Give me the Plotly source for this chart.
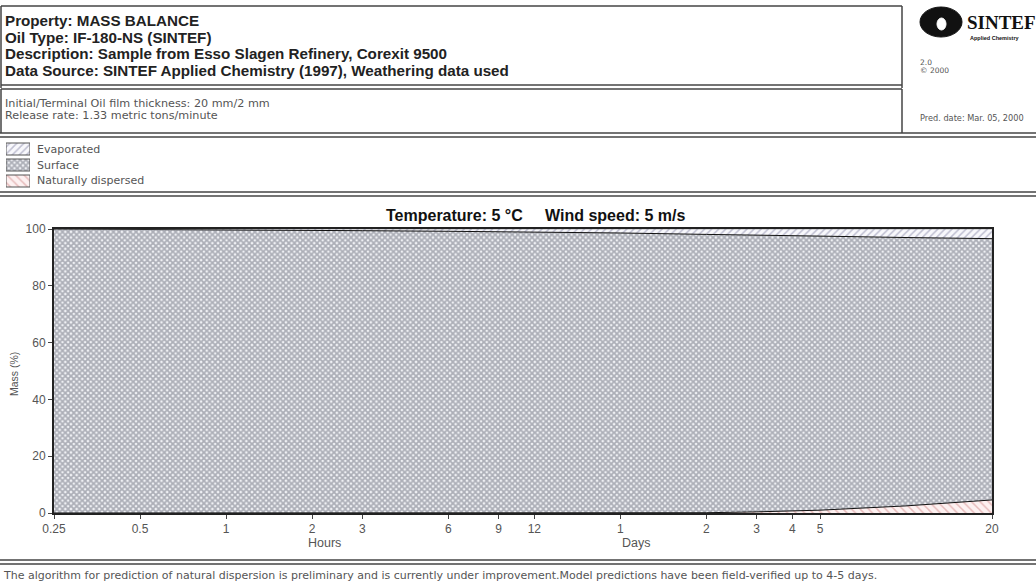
import plotly.graph_objects as go

# ---- data ----
time_hours = [0.25, 0.5, 1, 2, 3, 6, 9, 12, 24, 48, 72, 96, 120, 240, 480]
evaporated = [0.0, 0.1, 0.3, 0.5, 0.6, 0.8, 0.9, 1.0, 1.4, 1.9, 2.1, 2.3, 2.5, 3.0, 3.4]
dispersed = [0.0, 0.0, 0.0, 0.0, 0.0, 0.0, 0.0, 0.0, 0.0, 0.1, 0.4, 0.7, 1.0, 2.5, 4.6]
surface = [round(100 - e - d, 2) for e, d in zip(evaporated, dispersed)]

tick_vals = [0.25, 0.5, 1, 2, 3, 6, 9, 12, 24, 48, 72, 96, 120, 480]
tick_text = ["0.25", "0.5", "1", "2", "3", "6", "9", "12", "1", "2", "3", "4", "5", "20"]
y_ticks = [0, 20, 40, 60, 80, 100]
legend_names = ["Evaporated", "Surface", "Naturally dispersed"]

# ---- layout geometry (pixels) ----
W, H = 1036, 588
L, R, T, B = 54, 992, 229, 513


def px(x):
    return x / W


def py(y):
    return (H - y) / H


GRAY = "#555555"
FONT = "Arial, Liberation Sans, sans-serif"
WIDE = "DejaVu Sans, Verdana, sans-serif"

styles = {
    "Naturally dispersed": dict(shape="\\", fgcolor="#cf8585", bgcolor="#fdf1f1", size=6, solidity=0.25),
    "Surface": dict(shape="x", fgcolor="#666a78", bgcolor="#f2f3f6", size=4, solidity=0.7),
    "Evaporated": dict(shape="/", fgcolor="#8686a6", bgcolor="#f8f8fc", size=5, solidity=0.3),
}

fig = go.Figure()

fig.add_trace(go.Scatter(
    x=time_hours, y=dispersed, name="Naturally dispersed", stackgroup="one",
    mode="lines", line=dict(color="#111111", width=1), showlegend=False,
    fillpattern=styles["Naturally dispersed"],
))
fig.add_trace(go.Scatter(
    x=time_hours, y=surface, name="Surface", stackgroup="one",
    mode="lines", line=dict(color="#111111", width=1), showlegend=False,
    fillpattern=styles["Surface"],
))
fig.add_trace(go.Scatter(
    x=time_hours, y=evaporated, name="Evaporated", stackgroup="one",
    mode="lines", line=dict(color="#777777", width=0.5), showlegend=False,
    fillpattern=styles["Evaporated"],
))

# ---- manual legend swatches on a small helper axis ----
legend_rows_y = [149, 165, 181]  # pixel centres
for name, yc in zip(legend_names, legend_rows_y):
    fig.add_trace(go.Scatter(
        x=[0, 1, 1, 0, 0], y=[yc - 6, yc - 6, yc + 6, yc + 6, yc - 6],
        xaxis="x2", yaxis="y2", mode="lines", fill="toself",
        line=dict(color="#555555", width=1), fillpattern=styles[name],
        showlegend=False, hoverinfo="skip"))

shapes = []
line_col = "#444444"


def hline(y, x0=0, x1=W, w=1.5, c=line_col):
    shapes.append(dict(type="line", xref="paper", yref="paper",
                       x0=px(x0), x1=px(x1), y0=py(y), y1=py(y),
                       line=dict(color=c, width=w)))


def vline(x, y0, y1, w=1.5, c=line_col):
    shapes.append(dict(type="line", xref="paper", yref="paper",
                       x0=px(x), x1=px(x), y0=py(y0), y1=py(y1),
                       line=dict(color=c, width=w)))


# header boxes
hline(6, 1, 902)
hline(85, 1, 902)
vline(902, 6, 88)
vline(1, 6, 88)
hline(89, 1, 902)
vline(902, 89, 133)
vline(1, 89, 133)
# full width double lines
hline(133, 0, W)
hline(137, 0, W)
hline(192, 0, W)
hline(196, 0, W)
hline(560, 0, W)
hline(564, 0, W)

# logo
shapes.append(dict(type="circle", xref="paper", yref="paper",
                   x0=px(920), x1=px(962), y0=py(37), y1=py(7),
                   fillcolor="#111111", line=dict(color="#111111", width=1)))
shapes.append(dict(type="circle", xref="paper", yref="paper",
                   x0=px(937), x1=px(946), y0=py(30), y1=py(18),
                   fillcolor="white", line=dict(color="white", width=1)))

annotations = []


def text(x, y, s, size=10, color=GRAY, bold=False, xanchor="left", angle=0, family=FONT):
    annotations.append(dict(
        xref="paper", yref="paper", x=px(x), y=py(y), text=(f"<b>{s}</b>" if bold else s),
        showarrow=False, xanchor=xanchor, yanchor="middle", textangle=angle,
        font=dict(family=family, size=size, color=color)))


text(3, 20, "Property: MASS BALANCE", 15.2, "#222222", True)
text(3, 37, "Oil Type: IF-180-NS (SINTEF)", 15.2, "#222222", True)
text(3, 53, "Description: Sample from Esso Slagen Refinery, Corexit 9500", 15.2, "#222222", True)
text(3, 70, "Data Source: SINTEF Applied Chemistry (1997), Weathering data used", 15.2, "#222222", True)
text(3, 103, "Initial/Terminal Oil film thickness: 20 mm/2 mm", 11.2, family=WIDE)
text(3, 115, "Release rate: 1.33 metric tons/minute", 11.2, family=WIDE)

for name, yc in zip(legend_names, legend_rows_y):
    text(35, yc, name, 11, family=WIDE)

text(965, 22, "SINTEF", 19, "#111111", True, family="Liberation Serif, serif")
text(968, 38, "Applied Chemistry", 5.5, "#111111", True)
text(918, 62, "2.0", 7.5, family=WIDE)
text(918, 71, "© 2000", 7.5, family=WIDE)
text(918, 118, "Pred. date: Mar. 05, 2000", 8.2, family=WIDE)

text(535, 215, "Temperature: 5 °C&nbsp;&nbsp;&nbsp;&nbsp;&nbsp;Wind speed: 5 m/s", 16, "#111111", True, "center")
text(14, 374, "Mass (%)", 10.5, GRAY, False, "center", -90)
text(324, 543, "Hours", 12.5, GRAY, False, "center")
text(636, 543, "Days", 12.5, GRAY, False, "center")
text(1, 575, "The algorithm for prediction of natural dispersion is preliminary and is currently under improvement.Model predictions have been field-verified up to 4-5 days.", 11, family=WIDE)

fig.update_layout(
    width=W, height=H,
    margin=dict(l=0, r=0, t=0, b=0, pad=0, autoexpand=False),
    paper_bgcolor="white", plot_bgcolor="white",
    font=dict(family=FONT, size=10, color=GRAY),
    showlegend=False,
    shapes=shapes, annotations=annotations,
    xaxis=dict(type="log", domain=[L / W, R / W], range=[-0.60206, 2.68124],
               tickvals=tick_vals, ticktext=tick_text, automargin=False,
               showline=True, linecolor="#222222", linewidth=2, mirror=True,
               ticks="outside", ticklen=4, tickcolor="#444444",
               showgrid=True, gridcolor="rgba(140,140,140,0.45)", griddash="dot", gridwidth=1,
               tickfont=dict(size=12, color=GRAY), zeroline=False),
    yaxis=dict(domain=[(H - B) / H, (H - T) / H], range=[0, 100], tickvals=y_ticks,
               automargin=False,
               showline=True, linecolor="#222222", linewidth=2, mirror=True,
               ticks="outside", ticklen=4, tickcolor="#444444",
               showgrid=True, gridcolor="rgba(140,140,140,0.45)", griddash="dot", gridwidth=1,
               tickfont=dict(size=12, color=GRAY), zeroline=False),
    # helper axis for legend swatches: x 6..30 px, y 140..192 px
    xaxis2=dict(domain=[6 / W, 30 / W], range=[0, 1], visible=False, fixedrange=True,
                anchor="y2", automargin=False),
    yaxis2=dict(domain=[(H - 192) / H, (H - 140) / H], range=[192, 140], visible=False,
                fixedrange=True, anchor="x2", automargin=False),
)

fig.write_html("out.html", config={"displayModeBar": False},
               post_script="document.body.style.margin='0';")
